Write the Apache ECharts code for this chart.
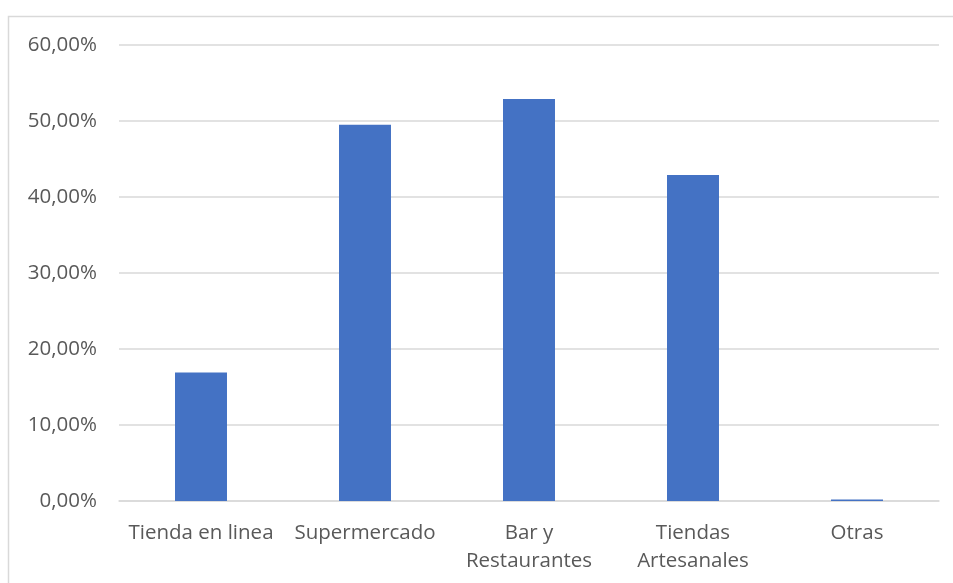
<!DOCTYPE html>
<html>
<head>
<meta charset="utf-8">
<script src="https://cdn.jsdelivr.net/npm/echarts@6/dist/echarts.min.js"></script>
<style>
  html, body { margin: 0; padding: 0; background: #fff; }
  #chart { width: 953px; height: 583px; }
</style>
</head>
<body>
<div id="chart"></div>
<script>
// Purchase channels, share of respondents (%)
const categories = ['Tienda en linea', 'Supermercado', 'Bar y\nRestaurantes', 'Tiendas\nArtesanales', 'Otras'];
const shares = [16.9, 49.5, 52.9, 42.9, 0.2];
const yTicks = { min: 0, max: 60, interval: 10 };

const fontFamily = '"Open Sans", "Noto Sans", sans-serif';
const labelColor = '#595959';

const chart = echarts.init(document.getElementById('chart'), null, { renderer: 'canvas' });

chart.setOption({
  animation: false,
  graphic: [{
    type: 'rect',
    shape: { x: 8.5, y: 16.5, width: 960, height: 600 },
    style: { fill: 'none', stroke: '#d9d9d9', lineWidth: 1.5 },
    silent: true
  }],
  grid: { left: 119, right: 14, top: 45, bottom: 82, containLabel: false },
  xAxis: {
    type: 'category',
    data: categories,
    axisTick: { show: false },
    axisLine: { lineStyle: { color: '#d9d9d9', width: 1.5 } },
    axisLabel: {
      color: labelColor,
      fontFamily: fontFamily,
      fontSize: 20.5,
      lineHeight: 28,
      margin: 18,
      interval: 0
    }
  },
  yAxis: {
    type: 'value',
    min: yTicks.min,
    max: yTicks.max,
    interval: yTicks.interval,
    axisLine: { show: false },
    axisTick: { show: false },
    splitLine: { lineStyle: { color: '#d9d9d9', width: 1.5 } },
    axisLabel: {
      color: labelColor,
      fontFamily: fontFamily,
      fontSize: 20.5,
      margin: 22,
      formatter: v => v.toFixed(2).replace('.', ',') + '%'
    }
  },
  series: [{
    type: 'bar',
    data: shares,
    barWidth: '31.7%',
    itemStyle: { color: '#4472c4' }
  }]
});
</script>
</body>
</html>
